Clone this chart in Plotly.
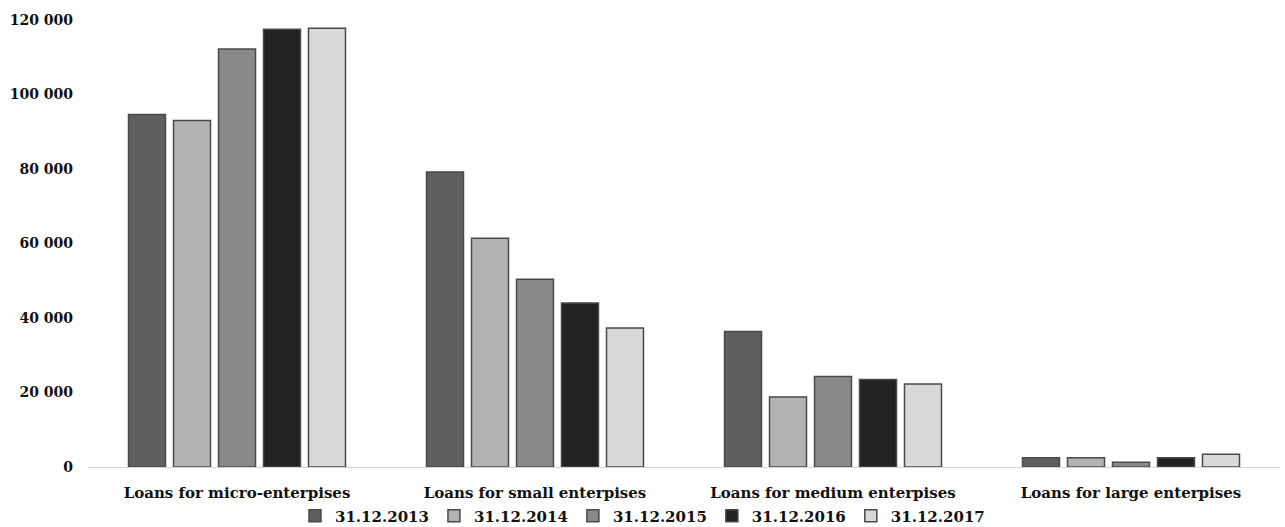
import plotly.graph_objects as go

# Loan portfolio by enterprise size, end-of-year balances
categories = [
    "Loans for micro-enterpises",
    "Loans for small enterpises",
    "Loans for medium enterpises",
    "Loans for large enterpises",
]
dates = ["31.12.2013", "31.12.2014", "31.12.2015", "31.12.2016", "31.12.2017"]

values_2013 = [94600, 79200, 36400, 2500]
values_2014 = [93000, 61400, 18800, 2500]
values_2015 = [112200, 50400, 24300, 1300]
values_2016 = [117500, 44000, 23500, 2500]
values_2017 = [117800, 37300, 22300, 3400]

series = [values_2013, values_2014, values_2015, values_2016, values_2017]
fills = ["#5f5f5f", "#b3b3b3", "#898989", "#222222", "#d9d9d9"]

FONT = "DejaVu Serif"

fig = go.Figure()
for name, vals, col in zip(dates, series, fills):
    fig.add_trace(go.Bar(
        x=categories,
        y=vals,
        name=name,
        marker=dict(color=col, line=dict(color="#4a4a4a", width=1.5)),
    ))

fig.update_layout(
    width=1285,
    height=527,
    barmode="group",
    bargap=0.245,
    bargroupgap=0.178,
    plot_bgcolor="white",
    paper_bgcolor="white",
    margin=dict(l=88, r=5, t=20, b=60),
    separators=". ",
    font=dict(family=FONT, size=14, color="#111111"),
    showlegend=True,
    legend=dict(
        orientation="h",
        xref="container",
        yref="container",
        x=0.5,
        xanchor="center",
        y=0.021,
        yanchor="middle",
        bgcolor="rgba(0,0,0,0)",
        font=dict(family=FONT, size=15, color="#111111", weight="bold"),
        itemwidth=30,
        traceorder="normal",
    ),
)

fig.update_xaxes(
    automargin=False,
    showgrid=False,
    showline=True,
    linecolor="#d4d4d4",
    linewidth=1,
    ticks="",
    ticklabelstandoff=12,
    tickfont=dict(family=FONT, size=15, color="#111111", weight="bold"),
)
fig.update_yaxes(
    automargin=False,
    range=[0, 120000],
    tickvals=[0, 20000, 40000, 60000, 80000, 100000, 120000],
    tickformat=",.0f",
    showgrid=False,
    zeroline=False,
    showline=False,
    ticks="",
    ticklabelstandoff=14,
    tickfont=dict(family=FONT, size=14, color="#111111", weight="bold"),
)

fig.write_html("out.html")
